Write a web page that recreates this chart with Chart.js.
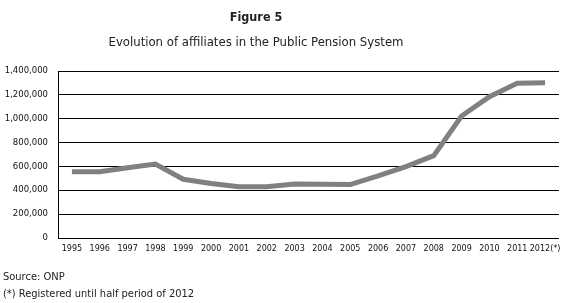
<!DOCTYPE html>
<html>
<head>
<meta charset="utf-8">
<script src="https://cdn.jsdelivr.net/npm/chart.js@4"></script>
<style>
body { margin: 0; background: #fff; }
#wrap { position: relative; width: 575px; height: 303px; overflow: hidden; }
#chart { position: absolute; left: 0; top: 0; }
.txt { position: absolute; font-family: "Liberation Sans Narrow", "DejaVu Sans Condensed", "Liberation Sans", sans-serif; color: #222; white-space: nowrap; }
#title { left: 0; width: 512px; top: 9px; text-align: center; font-size: 12.5px; font-weight: bold; }
#subtitle { left: 0; width: 512px; top: 34px; text-align: center; font-size: 13px; }
#source { left: 3px; top: 270px; font-size: 11px; }
#note { left: 3px; top: 287px; font-size: 11px; }
</style>
</head>
<body>
<div id="wrap">
  <canvas id="chart" width="575" height="303"></canvas>
  <div class="txt" id="title">Figure 5</div>
  <div class="txt" id="subtitle">Evolution of affiliates in the Public Pension System</div>
  <div class="txt" id="source">Source: ONP</div>
  <div class="txt" id="note">(*) Registered until half period of 2012</div>
</div>
<script>
var years = ["1995", "1996", "1997", "1998", "1999", "2000", "2001", "2002", "2003",
             "2004", "2005", "2006", "2007", "2008", "2009", "2010", "2011", "2012(*)"];

var affiliates = [555000, 555000, 589000, 620000, 492000, 457000, 430000, 430000, 453000,
                  450000, 448000, 520000, 598000, 690000, 1023000, 1185000, 1297000, 1302000];

var yTicks = [0, 200000, 400000, 600000, 800000, 1000000, 1200000, 1400000];

var ctx = document.getElementById("chart").getContext("2d");

var chart = new Chart(ctx, {
    type: 'line',
    data: {
        labels: years,
        datasets: [{
            label: 'Affiliates',
            data: affiliates,
            borderColor: "rgb(128,128,128)",
            borderWidth: 5,
            pointRadius: 0,
            tension: 0,
            fill: false
        }]
    },
    options: {
        responsive: false,
        animation: false,
        layout: {
            padding: { top: 71, right: 16, bottom: 45, left: 0 }
        },
        plugins: {
            legend: { display: false },
            tooltip: { enabled: false }
        },
        scales: {
            x: {
                offset: true,
                grid: { display: false, drawTicks: false },
                border: { display: false },
                ticks: {
                    color: "#111",
                    font: { family: "DejaVu Sans", size: 8 },
                    padding: 6,
                    maxRotation: 0,
                    autoSkip: false
                },
                afterFit: function(scale) { scale.height = 20; }
            },
            y: {
                min: 0,
                max: 1400000,
                afterBuildTicks: function(scale) {
                    scale.ticks = yTicks.map(function(v) { return { value: v }; });
                },
                grid: { color: "#000", lineWidth: 1, drawTicks: false },
                border: { display: true, color: "#000", width: 1 },
                ticks: {
                    color: "#111",
                    font: { family: "DejaVu Sans", size: 8.5 },
                    padding: 10,
                    callback: function(v) { return v.toLocaleString('en-US'); }
                },
                afterFit: function(scale) { scale.width = 58; }
            }
        }
    }
});
</script>
</body>
</html>
